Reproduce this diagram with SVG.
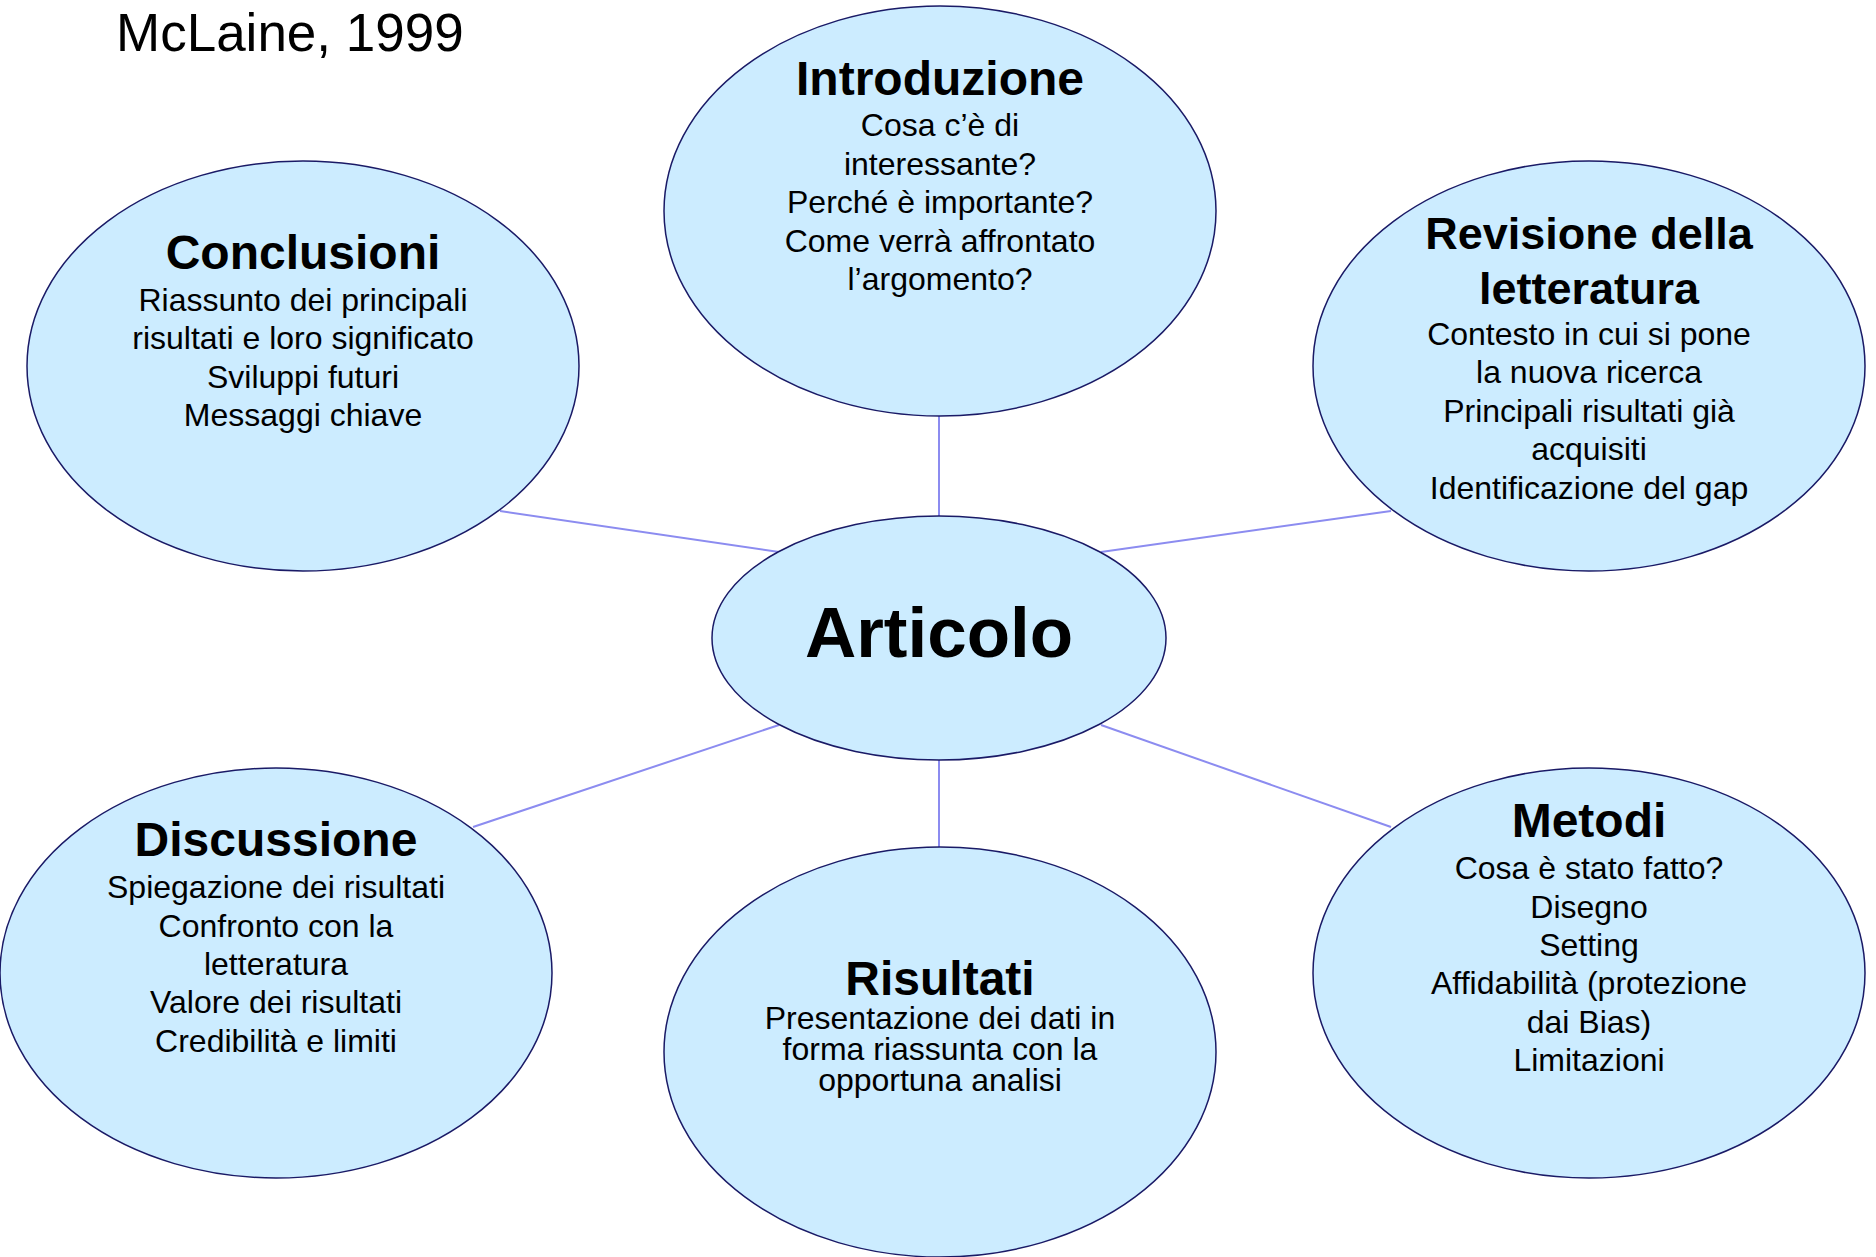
<svg xmlns="http://www.w3.org/2000/svg" width="1876" height="1257" viewBox="0 0 1876 1257">
<style>
.node ellipse{fill:#CCECFF;stroke:#1A1A66;stroke-width:1.5}
text{font-family:"Liberation Sans",Arial,sans-serif;fill:#000;text-anchor:middle}
.h{font-size:48px;font-weight:bold}
.h2{font-size:45px;font-weight:bold}
.b{font-size:32px}
.conn line{stroke:#8C8CF0;stroke-width:2}
</style>
<rect width="1876" height="1257" fill="#FFFFFF"/>
<text x="116" y="51" style="font-size:53px;text-anchor:start">McLaine, 1999</text>
<g id="connectors" class="conn">
<line x1="939" y1="416" x2="939" y2="516"/>
<line x1="500" y1="511" x2="779" y2="552"/>
<line x1="1391" y1="511" x2="1101" y2="552"/>
<line x1="473" y1="827" x2="779" y2="725"/>
<line x1="1391" y1="827" x2="1101" y2="725"/>
<line x1="939" y1="759" x2="939" y2="847"/>
</g>
<g id="introduzione" class="node">
<ellipse cx="940" cy="211" rx="276" ry="205"/>
<text class="h" x="940" y="95">Introduzione</text>
<text class="b" x="940" y="136">Cosa c’è di</text>
<text class="b" x="940" y="174.5">interessante?</text>
<text class="b" x="940" y="213">Perché è importante?</text>
<text class="b" x="940" y="251.5">Come verrà affrontato</text>
<text class="b" x="940" y="290">l’argomento?</text>
</g>
<g id="conclusioni" class="node">
<ellipse cx="303" cy="366" rx="276" ry="205"/>
<text class="h" x="303" y="269">Conclusioni</text>
<text class="b" x="303" y="311">Riassunto dei principali</text>
<text class="b" x="303" y="349">risultati e loro significato</text>
<text class="b" x="303" y="387.5">Sviluppi futuri</text>
<text class="b" x="303" y="426">Messaggi chiave</text>
</g>
<g id="revisione" class="node">
<ellipse cx="1589" cy="366" rx="276" ry="205"/>
<text class="h2" x="1589" y="249">Revisione della</text>
<text class="h2" x="1589" y="304">letteratura</text>
<text class="b" x="1589" y="345">Contesto in cui si pone</text>
<text class="b" x="1589" y="383">la nuova ricerca</text>
<text class="b" x="1589" y="422">Principali risultati già</text>
<text class="b" x="1589" y="460">acquisiti</text>
<text class="b" x="1589" y="499">Identificazione del gap</text>
</g>
<g id="articolo" class="node">
<ellipse cx="939" cy="638" rx="227" ry="122"/>
<text x="939" y="657" style="font-size:71px;font-weight:bold">Articolo</text>
</g>
<g id="discussione" class="node">
<ellipse cx="276" cy="973" rx="276" ry="205"/>
<text class="h" x="276" y="856">Discussione</text>
<text class="b" x="276" y="898">Spiegazione dei risultati</text>
<text class="b" x="276" y="936.5">Confronto con la</text>
<text class="b" x="276" y="975">letteratura</text>
<text class="b" x="276" y="1013">Valore dei risultati</text>
<text class="b" x="276" y="1051.5">Credibilità e limiti</text>
</g>
<g id="risultati" class="node">
<ellipse cx="940" cy="1052" rx="276" ry="205"/>
<text class="h" x="940" y="995">Risultati</text>
<text class="b" x="940" y="1028.5">Presentazione dei dati in</text>
<text class="b" x="940" y="1060">forma riassunta con la</text>
<text class="b" x="940" y="1091">opportuna analisi</text>
</g>
<g id="metodi" class="node">
<ellipse cx="1589" cy="973" rx="276" ry="205"/>
<text class="h" x="1589" y="837">Metodi</text>
<text class="b" x="1589" y="879">Cosa è stato fatto?</text>
<text class="b" x="1589" y="917.5">Disegno</text>
<text class="b" x="1589" y="956">Setting</text>
<text class="b" x="1589" y="994">Affidabilità (protezione</text>
<text class="b" x="1589" y="1032.5">dai Bias)</text>
<text class="b" x="1589" y="1071">Limitazioni</text>
</g>
</svg>
